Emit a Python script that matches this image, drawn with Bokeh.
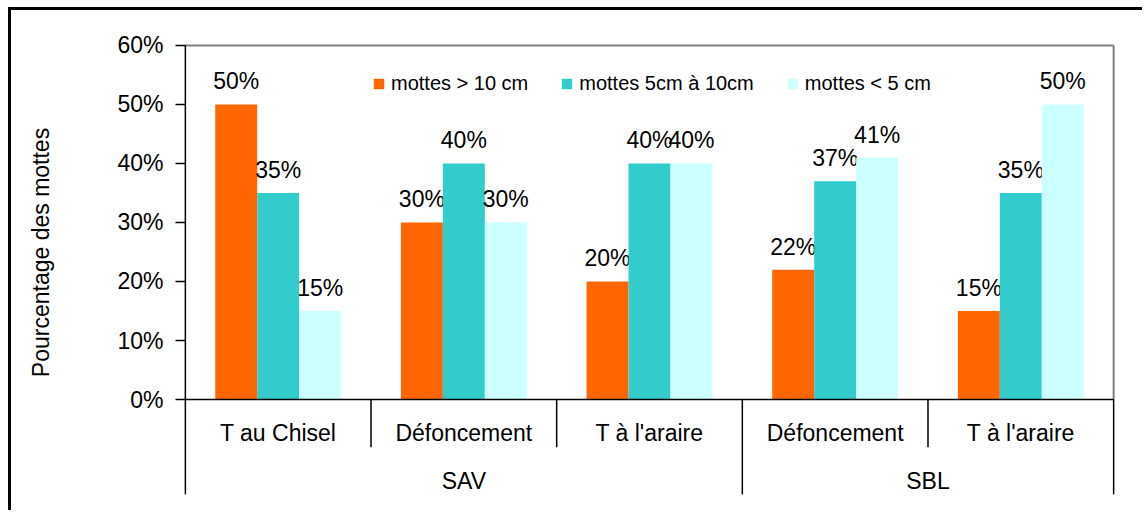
from bokeh.plotting import figure
from bokeh.models import (ColumnDataSource, Range1d, FixedTicker, PrintfTickFormatter,
                          Legend, LegendItem)
from bokeh.embed import file_html
from bokeh.resources import INLINE
from bokeh.core.properties import value

# ---------------- data ----------------
groups = ["SAV", "SAV", "SAV", "SBL", "SBL"]
categories = ["T au Chisel", "Défoncement", "T à l'araire", "Défoncement", "T à l'araire"]
series_names = ["mottes > 10 cm", "mottes 5cm à 10cm", "mottes < 5 cm"]
mottes_gt10 = [50, 30, 20, 22, 15]
mottes_5_10 = [35, 40, 40, 37, 35]
mottes_lt5 = [15, 30, 40, 41, 50]
y_ticks = [0, 10, 20, 30, 40, 50, 60]
y_label = "Pourcentage des mottes"

colors = ["#FF6600", "#33CCCC", "#CCFFFF"]
FONT = "Liberation Sans"
FS = "23px"
n = len(categories)

# ---------------- figure ----------------
y_min, y_max = -16.1, 65.93
p = figure(width=1134, height=503, output_backend="svg", toolbar_location=None,
           x_range=Range1d(-0.01, n + 0.01), y_range=Range1d(y_min, y_max),
           x_axis_location=None, min_border_left=172, min_border_right=30,
           min_border_top=0, min_border_bottom=19)
p.styles = {"border-left": "3px solid black", "border-top": "3px solid black",
            "margin-left": "8px", "margin-top": "7px"}
p.xgrid.visible = False
p.ygrid.visible = False
p.outline_line_color = None
p.background_fill_color = "white"
p.border_fill_color = "white"

ax = p.yaxis[0]
ax.ticker = FixedTicker(ticks=y_ticks)
ax.formatter = PrintfTickFormatter(format="%d%%")
ax.major_tick_out = 8
ax.major_tick_in = 2
ax.minor_tick_line_color = None
ax.major_tick_line_color = "black"
ax.major_tick_line_width = 1.5
ax.axis_line_color = None
ax.major_label_text_font = FONT
ax.major_label_text_font_size = FS
ax.major_label_text_color = "black"
ax.major_label_standoff = 12
ax.axis_label = y_label
ax.axis_label_standoff = 60
ax.axis_label_text_font = FONT
ax.axis_label_text_font_size = FS
ax.axis_label_text_font_style = "normal"
ax.axis_label_text_color = "black"

# ---------------- bars ----------------
BAR_W = 0.226
renderers = []
for k, (vals, col) in enumerate(zip([mottes_gt10, mottes_5_10, mottes_lt5], colors)):
    xs = [i + 0.5 + (k - 1) * BAR_W for i in range(n)]
    src = ColumnDataSource(dict(x=xs, top=vals, label=[f"{v}%" for v in vals]))
    r = p.vbar(x="x", top="top", bottom=0, width=BAR_W, fill_color=col,
               line_color=None, source=src)
    renderers.append(r)
    p.text(x="x", y="top", text="label", source=src, text_align="center",
           text_baseline="alphabetic", y_offset=-23, text_font=value(FONT),
           text_font_size=FS, text_color="black")

# ---------------- frame lines ----------------
top_v = y_ticks[-1]
# gray top and right border of the value area
p.segment(x0=[0, n], y0=[top_v, 0], x1=[n, n], y1=[top_v, top_v],
          line_color="#808080", line_width=2)
# value axis line (extends down through the category area)
p.segment(x0=[0], y0=[top_v], x1=[0], y1=[y_min], line_color="black", line_width=1.5)
# zero line
p.segment(x0=[0], y0=[0], x1=[n], y1=[0], line_color="black", line_width=1.5)

short_x, long_x = [], []
for i in range(1, n + 1):
    if i == n or groups[i - 1] != groups[i]:
        long_x.append(i)
    else:
        short_x.append(i)
p.segment(x0=short_x, y0=[0] * len(short_x), x1=short_x, y1=[-8.1] * len(short_x),
          line_color="black", line_width=1.5)
p.segment(x0=long_x, y0=[0] * len(long_x), x1=long_x, y1=[y_min] * len(long_x),
          line_color="black", line_width=1.5)

cat_src = ColumnDataSource(dict(x=[i + 0.5 for i in range(n)], y=[0] * n, t=categories))
p.text(x="x", y="y", text="t", source=cat_src, text_align="center",
       text_baseline="alphabetic", y_offset=33, text_font=value(FONT),
       text_font_size=FS, text_color="black")

uniq = []
for g in groups:
    if g not in uniq:
        uniq.append(g)
gx = []
for g in uniq:
    idx = [i for i, gg in enumerate(groups) if gg == g]
    gx.append((min(idx) + max(idx) + 1) / 2)
grp_src = ColumnDataSource(dict(x=gx, y=[0] * len(gx), t=uniq))
p.text(x="x", y="y", text="t", source=grp_src, text_align="center",
       text_baseline="alphabetic", y_offset=81, text_font=value(FONT),
       text_font_size=FS, text_color="black")

# ---------------- legend ----------------
legend = Legend(items=[LegendItem(label=nm, renderers=[r]) for nm, r in zip(series_names, renderers)],
                orientation="horizontal", location=(189, 399), padding=0, margin=0,
                spacing=32, glyph_width=13, glyph_height=13, label_standoff=6,
                label_text_font=FONT, label_text_font_size="20px",
                label_text_color="black", label_height=20,
                border_line_color=None, background_fill_alpha=0)
p.add_layout(legend)

open("out.html", "w").write(file_html(p, INLINE))
